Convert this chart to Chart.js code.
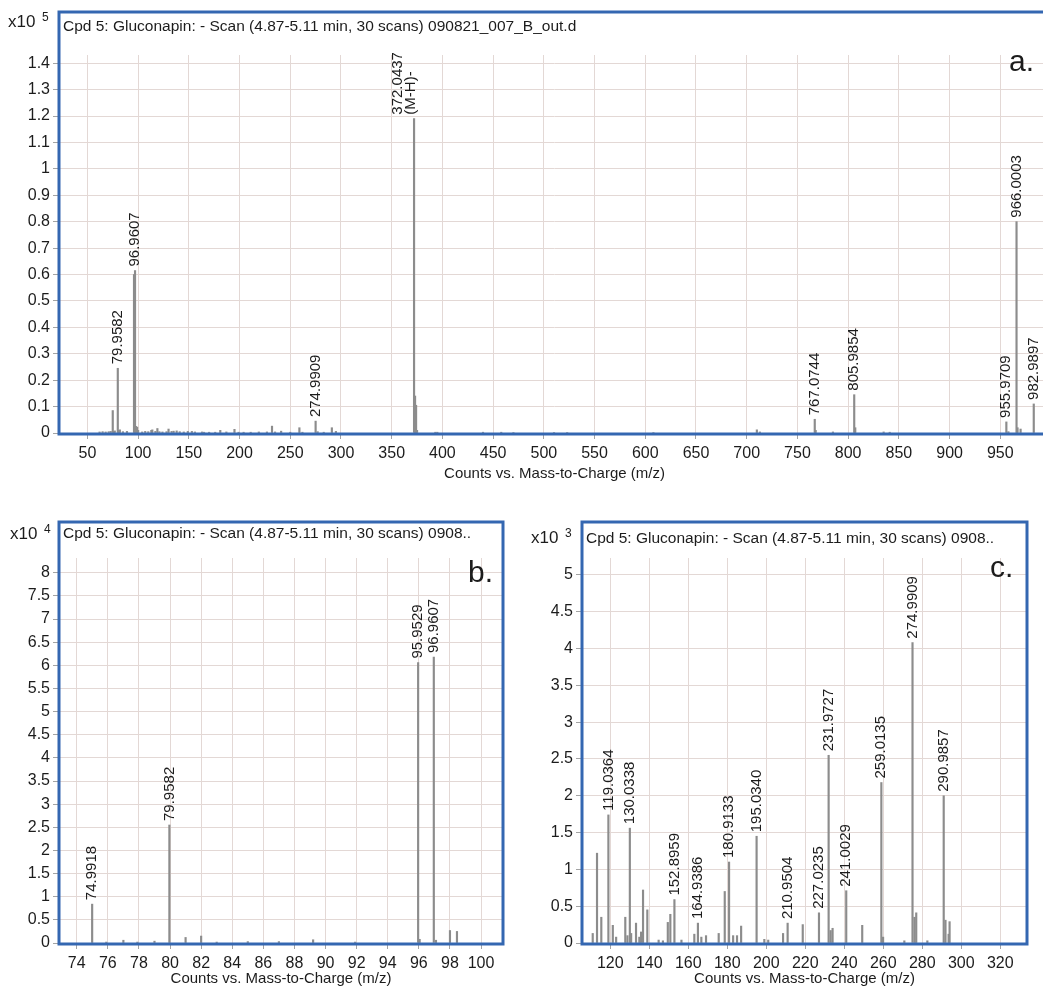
<!DOCTYPE html>
<html>
<head>
<meta charset="utf-8">
<script src="https://cdn.jsdelivr.net/npm/chart.js@4.4.0/dist/chart.umd.min.js"></script>
<style>
  html, body { margin: 0; padding: 0; background: #fff; overflow: hidden; }
  canvas { position: absolute; }
</style>
</head>
<body>
<canvas id="chartA" width="1060" height="490" style="left:0;top:0"></canvas>
<canvas id="chartB" width="520" height="502" style="left:0;top:490px"></canvas>
<canvas id="chartC" width="523" height="502" style="left:520px;top:490px"></canvas>
<script>
// ---- texts
var titleLong = 'Cpd 5: Gluconapin: - Scan (4.87-5.11 min, 30 scans) 090821_007_B_out.d';
var titleShort = 'Cpd 5: Gluconapin: - Scan (4.87-5.11 min, 30 scans) 0908..';
var xTitle = 'Counts vs. Mass-to-Charge (m/z)';

// ---- panel a (counts x10^5)
var mzA = [62, 65, 68, 71, 73, 74.9918, 76, 77, 79.9582, 81, 82, 85, 89, 95.9529, 96.9607, 97.97, 98.97, 100,
  104, 107, 110, 113, 114, 117, 119, 121, 124, 128, 130, 133, 135, 138, 141, 145, 149, 153, 156, 163, 165,
  170, 176, 181, 187, 195, 199, 204, 211, 219, 227, 232, 235, 241, 250, 259, 262, 274.9909, 277, 283, 291,
  295, 372.0437, 373.04, 374.04, 375, 393, 395, 440, 458, 470, 510, 523, 608, 710, 713, 767.0744, 768, 785,
  805.9854, 807, 835, 841, 955.9709, 958, 966.0003, 967, 970, 982.9897];
var countsA = [0.004, 0.005, 0.004, 0.005, 0.006, 0.085, 0.006, 0.008, 0.245, 0.01, 0.012, 0.005, 0.006, 0.6, 0.615, 0.025, 0.022, 0.01,
  0.004, 0.006, 0.005, 0.01, 0.012, 0.006, 0.017, 0.005, 0.004, 0.005, 0.015, 0.006, 0.007, 0.008, 0.005, 0.004, 0.006, 0.006, 0.004, 0.004, 0.003,
  0.003, 0.003, 0.01, 0.004, 0.014, 0.003, 0.003, 0.003, 0.004, 0.004, 0.026, 0.004, 0.007, 0.003, 0.02, 0.003, 0.045, 0.005, 0.003, 0.02,
  0.006, 1.19, 0.14, 0.105, 0.01, 0.003, 0.003, 0.003, 0.003, 0.002, 0.002, 0.002, 0.002, 0.012, 0.004, 0.052, 0.01, 0.004,
  0.145, 0.02, 0.004, 0.003, 0.042, 0.005, 0.8, 0.02, 0.015, 0.11];
var peakMzA = [79.9582, 96.9607, 274.9909, 372.0437, 767.0744, 805.9854, 955.9709, 966.0003, 982.9897];
var peakTextA = ['79.9582', '96.9607', '274.9909', '372.0437\n(M-H)-', '767.0744', '805.9854', '955.9709', '966.0003', '982.9897'];

// ---- panel b (counts x10^4)
var mzB = [74.9918, 75.9, 77.0, 77.9, 79.0, 79.9582, 81.0, 82.0, 83.0, 85.0, 87.0, 89.2, 91.9, 95.9529, 96.05, 96.9607, 97.1, 98.0, 98.45];
var countsB = [0.84, 0.02, 0.06, 0.02, 0.04, 2.55, 0.12, 0.15, 0.02, 0.03, 0.03, 0.07, 0.02, 6.06, 0.08, 6.18, 0.06, 0.27, 0.25];
var peakMzB = [74.9918, 79.9582, 95.9529, 96.9607];
var peakTextB = ['74.9918', '79.9582', '95.9529', '96.9607'];

// ---- panel c (counts x10^3)
var mzC = [111.0, 113.2, 115.4, 119.0364, 121.3, 123.0, 127.7, 128.8, 130.0338, 130.7, 133.2, 134.9, 135.8, 136.8, 139.0,
  144.8, 147.0, 149.5, 150.8, 152.8959, 156.5, 163.1, 164.9386, 166.7, 169.1, 175.6, 178.7, 180.9133, 183.0, 185.0, 187.1,
  195.0340, 199.0, 201.0, 208.6, 210.9504, 218.7, 227.0235, 231.9727, 233.0, 234.0, 241.0029, 249.2, 259.0135, 259.9,
  270.8, 274.9909, 276.0, 276.9, 282.6, 290.9857, 291.9, 293.5, 294.0];
var countsC = [0.13, 1.22, 0.35, 1.74, 0.24, 0.08, 0.35, 0.1, 1.56, 0.13, 0.27, 0.08, 0.15, 0.72, 0.45,
  0.04, 0.03, 0.28, 0.39, 0.59, 0.04, 0.12, 0.27, 0.08, 0.1, 0.13, 0.7, 1.1, 0.1, 0.1, 0.23,
  1.45, 0.05, 0.04, 0.13, 0.27, 0.25, 0.41, 2.55, 0.17, 0.2, 0.71, 0.24, 2.18, 0.08,
  0.03, 4.08, 0.35, 0.41, 0.03, 2.0, 0.31, 0.12, 0.29];
var peakMzC = [119.0364, 130.0338, 152.8959, 164.9386, 180.9133, 195.0340, 210.9504, 227.0235, 231.9727, 241.0029, 259.0135, 274.9909, 290.9857];
var peakTextC = ['119.0364', '130.0338', '152.8959', '164.9386', '180.9133', '195.0340', '210.9504', '227.0235', '231.9727', '241.0029', '259.0135', '274.9909', '290.9857'];

var FONT = '"Liberation Sans", Arial, sans-serif';
var textColor = '#1c1c1c';
var gridColor = '#e3d8d5';
var frameColor = '#3467b1';
var barColor = '#8c8c8c';

Chart.defaults.font.family = FONT;

// frame, header text and peak labels
var spectrumDecor = {
  id: 'spectrumDecor',
  afterDraw(chart, args, opts) {
    const {ctx, chartArea: {left, right, bottom}, scales: {x, y}} = chart;
    const data = chart.data.datasets[0].data;
    ctx.save();
    ctx.fillStyle = textColor;

    // peak labels, rotated
    ctx.font = '15px ' + FONT;
    ctx.textAlign = 'left';
    ctx.textBaseline = 'middle';
    opts.peaks.forEach((mz, i) => {
      const pt = data.find(d => Math.abs(d.x - mz) < 0.001);
      const lines = opts.texts[i].split('\n');
      const px = x.getPixelForValue(mz);
      const py = y.getPixelForValue(pt.y);
      lines.forEach((line, k) => {
        const cx = lines.length > 1 ? px - 3 - (lines.length - 1 - k) * 13 : px;
        ctx.save();
        ctx.translate(cx, py - 4);
        ctx.rotate(-Math.PI / 2);
        ctx.fillText(line, 0, 0);
        ctx.restore();
      });
    });

    // header
    ctx.textBaseline = 'alphabetic';
    ctx.font = '15.5px ' + FONT;
    ctx.fillText(opts.title, left + 4, opts.titleY);
    ctx.font = '17px ' + FONT;
    ctx.fillText('x10', opts.expX, opts.expY);
    ctx.font = '12px ' + FONT;
    ctx.fillText(opts.exp, opts.expX + 34, opts.expY - 6);
    ctx.font = '30px ' + FONT;
    ctx.fillText(opts.letter, opts.letterX, opts.letterY);

    // blue frame
    ctx.strokeStyle = frameColor;
    ctx.lineWidth = 3;
    ctx.strokeRect(left, opts.frameTop, right - left, bottom + 1 - opts.frameTop);
    ctx.restore();
  }
};

function makeChart(id, mz, counts, s) {
  return new Chart(document.getElementById(id), {
    type: 'bar',
    data: {
      datasets: [{
        data: mz.map((m, i) => ({x: m, y: counts[i]})),
        backgroundColor: barColor,
        barThickness: 1.5,
        borderWidth: 0
      }]
    },
    options: {
      responsive: false,
      animation: false,
      layout: {padding: {top: s.top, right: s.right, left: 0, bottom: 0}},
      plugins: {
        legend: {display: false},
        tooltip: {enabled: false},
        spectrumDecor: s.decor
      },
      scales: {
        x: {
          type: 'linear',
          min: s.xMin,
          max: s.xMax,
          offset: false,
          border: {display: false},
          grid: {color: gridColor, tickColor: '#a3a3a3', tickLength: 6, offset: false},
          ticks: {
            stepSize: s.xStep, includeBounds: false, autoSkip: false, maxRotation: 0,
            padding: 5, color: textColor, font: {size: 16},
            callback: v => String(v)
          },
          title: {display: true, text: xTitle, color: textColor, font: {size: 15}, padding: {top: 0, bottom: s.titlePad}},
          afterFit: sc => { sc.height = s.xHeight; }
        },
        y: {
          min: 0,
          max: s.yMax,
          border: {display: false},
          grid: {color: gridColor, tickColor: '#a3a3a3', tickLength: 6},
          ticks: {
            stepSize: s.yStep, includeBounds: false, padding: 3, color: textColor, font: {size: 16},
            callback: v => String(Number(v.toFixed(1)))
          },
          afterFit: sc => { sc.width = s.yWidth; }
        }
      }
    },
    plugins: [spectrumDecor]
  });
}

makeChart('chartA', mzA, countsA, {
  top: 55, right: 10, xMin: 22, xMax: 999, xStep: 50, yMax: 1.431, yStep: 0.1,
  xHeight: 57, yWidth: 59, titlePad: 7,
  decor: {peaks: peakMzA, texts: peakTextA, title: titleLong, titleY: 31, frameTop: 12,
    exp: '5', expX: 8, expY: 27, letter: 'a.', letterX: 1009, letterY: 71}
});

makeChart('chartB', mzB, countsB, {
  top: 68, right: 17, xMin: 72.86, xMax: 101.41, xStep: 2, yMax: 8.32, yStep: 0.5,
  xHeight: 49, yWidth: 59, titlePad: 4,
  decor: {peaks: peakMzB, texts: peakTextB, title: titleShort, titleY: 48, frameTop: 32,
    exp: '4', expX: 10, expY: 49, letter: 'b.', letterX: 468, letterY: 92}
});

makeChart('chartC', mzC, countsC, {
  top: 68, right: 16, xMin: 105.5, xMax: 333.7, xStep: 20, yMax: 5.23, yStep: 0.5,
  xHeight: 49, yWidth: 62, titlePad: 4,
  decor: {peaks: peakMzC, texts: peakTextC, title: titleShort, titleY: 53, frameTop: 32,
    exp: '3', expX: 11, expY: 53, letter: 'c.', letterX: 470, letterY: 87}
});
</script>
</body>
</html>
